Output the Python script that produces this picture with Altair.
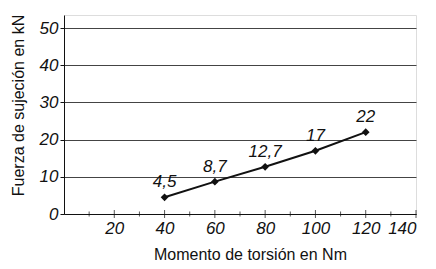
import altair as alt
import pandas as pd

torque = [40, 60, 80, 100, 120]
force = [4.5, 8.7, 12.7, 17, 22]
labels = ["4,5", "8,7", "12,7", "17", "22"]
label_dx = [-12, -4, -2, -5, 0]
x_ticks = [0, 20, 40, 60, 80, 100, 120, 140]
y_ticks = [0, 10, 20, 30, 40, 50]
minor_x = [10, 30, 50, 70, 90, 110, 130]
major_x = [20, 40, 60, 80, 100, 120, 140]

df = pd.DataFrame({"x": torque, "y": force, "lab": labels, "dx": label_dx})

FONT = "Liberation Sans Narrow, Arial Narrow, Liberation Sans, Arial, sans-serif"

xs = alt.Scale(domain=[0, 140], nice=False, zero=True)
ys = alt.Scale(domain=[0, 53.5], nice=False)

x_axis = alt.Axis(values=x_ticks,
                  labelExpr="datum.value == 0 ? '' : datum.label",
                  title="Momento de torsión en Nm", grid=False, labelOverlap=False,
                  labelFont=FONT, labelFontStyle="italic", labelFontSize=17,
                  labelColor="#111", titleFont=FONT, titleFontSize=16,
                  titleFontWeight="normal", titleColor="#111", titlePadding=10,
                  titleX=186,
                  domainColor="#111", ticks=False, labelPadding=6)
y_axis = alt.Axis(values=y_ticks, title="Fuerza de sujeción en kN",
                  grid=True, gridColor="#444", gridWidth=1, labelOverlap=False,
                  labelFont=FONT, labelFontStyle="italic", labelFontSize=17,
                  labelColor="#111", titleFont=FONT, titleFontSize=16,
                  titleFontWeight="normal", titleColor="#111", titlePadding=13,
                  titleY=90,
                  domainColor="#111", tickColor="#111", tickSize=4, labelPadding=2)

X = alt.X("x:Q", scale=xs, axis=x_axis)
Y = alt.Y("y:Q", scale=ys, axis=y_axis)

base = alt.Chart(df)
line = base.mark_line(color="#111", strokeWidth=2).encode(x=X, y=Y)
pts = base.mark_point(shape="diamond", filled=True, color="#111", size=60, opacity=1).encode(x=X, y=Y)
text = base.mark_text(font=FONT, fontStyle="italic", fontSize=17, color="#111",
                      dy=-6, baseline="bottom").encode(
    x=X, y=Y, text="lab:N", xOffset=alt.XOffset("dx:Q", scale=None))

mticks = alt.Chart(pd.DataFrame({"x": minor_x})).mark_tick(
    color="#111", thickness=1, size=5, orient="vertical").encode(x=X, y=alt.value(199))
Mticks = alt.Chart(pd.DataFrame({"x": major_x})).mark_tick(
    color="#111", thickness=1, size=8, orient="vertical").encode(x=X, y=alt.value(199))

chart = alt.layer(line, pts, text, mticks, Mticks).properties(
    width=352, height=199,
    autosize=alt.AutoSizeParams(type="none"),
    padding={"left": 56, "top": 7, "right": 12, "bottom": 55},
).configure_view(stroke=None).configure(background="white")

chart.save("out.html", embed_options={"renderer": "svg", "actions": False})
